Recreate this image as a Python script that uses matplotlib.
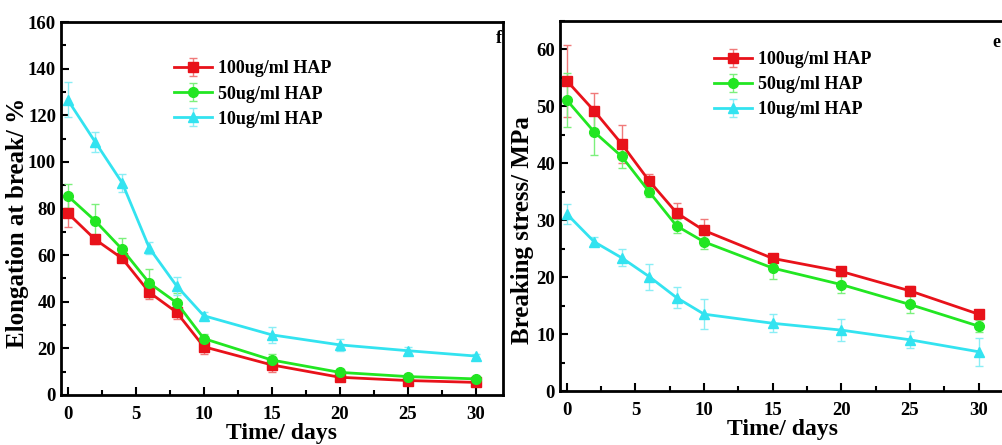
import numpy as np
import matplotlib
matplotlib.use("Agg")
import matplotlib.pyplot as plt
from matplotlib.ticker import MultipleLocator

plt.rcParams['font.family'] = ['Liberation Serif', 'DejaVu Serif']
plt.rcParams['font.weight'] = 'bold'

days = [0, 2, 4, 6, 8, 10, 15, 20, 25, 30]
labels = ["100ug/ml HAP", "50ug/ml HAP", "10ug/ml HAP"]

# elongation at break (%)
elong_100 = [78, 66.8, 58.6, 44, 35.5, 20.7, 12.9, 7.6, 6.2, 5.4]
elong_50 = [85.4, 74.8, 62.5, 48, 39.6, 24.2, 15, 9.7, 7.9, 6.9]
elong_10 = [126.6, 108.7, 91, 63, 46.8, 34, 25.8, 21.5, 19, 16.7]
elong_100_err = [6, 2, 1.5, 3, 3, 3, 3, 1, 1, 1]
elong_50_err = [5, 7, 4.7, 6, 4, 2, 2.5, 1.5, 1, 1]
elong_10_err = [7.5, 4.3, 4, 2.5, 4, 1.5, 3.5, 2.5, 1.5, 1]

# breaking stress (MPa)
stress_100 = [54.5, 49.2, 43.4, 36.9, 31.3, 28.2, 23.3, 21, 17.6, 13.5]
stress_50 = [51.1, 45.5, 41.2, 35, 29, 26.2, 21.6, 18.7, 15.2, 11.4]
stress_10 = [31.1, 26.2, 23.4, 20.1, 16.4, 13.5, 11.9, 10.7, 9, 6.9]
stress_100_err = [6.3, 3.2, 3.3, 1.2, 1.8, 2, 0.8, 0.8, 0.8, 0.8]
stress_50_err = [4.8, 4, 2, 1, 1.2, 1.2, 2, 1.5, 1.5, 1]
stress_10_err = [1.8, 0.8, 1.5, 2.3, 1.9, 2.6, 1.6, 1.9, 1.5, 2.5]

colors = ["#e8121a", "#22e622", "#33e3f0"]
err_colors = ["#f07a7a", "#7cf07c", "#8aeef5"]
markers = ["s", "o", "^"]

fig = plt.figure(figsize=(10.03, 4.45), dpi=100)
ax1 = fig.add_axes([0.0608, 0.1124, 0.4407, 0.838])
ax2 = fig.add_axes([0.5583, 0.1213, 0.4447, 0.8315])


def draw(ax, series, errs, ylim, ymajor, yminor, ylabel, label_xy, tag, tag_xy, leg_pos):
    for y, e, c, ec, m, lab in zip(series, errs, colors, err_colors, markers, labels):
        ax.errorbar(days, y, yerr=e, color=c, ecolor=ec, elinewidth=1.0,
                    capsize=3, capthick=1.0, marker=m, markersize=7,
                    linewidth=2, label=lab)
    ax.set_xlim(-0.5, 32)
    ax.set_ylim(*ylim)
    ax.xaxis.set_major_locator(MultipleLocator(5))
    ax.xaxis.set_minor_locator(MultipleLocator(2.5))
    ax.yaxis.set_major_locator(MultipleLocator(ymajor))
    ax.yaxis.set_minor_locator(MultipleLocator(yminor))
    ax.tick_params(which='both', direction='in', top=False, right=False,
                   labelsize=13.5, width=1.5)
    ax.tick_params(axis='x', which='both', pad=8)
    ax.tick_params(which='major', length=6)
    ax.tick_params(which='minor', length=3.5)
    for s in ax.spines.values():
        s.set_linewidth(2)
    ax.set_xlabel("Time/ days", fontsize=17, fontweight='bold', labelpad=0)
    ax.set_ylabel(ylabel, fontsize=18, fontweight='bold')
    ax.yaxis.set_label_coords(*label_xy)
    ax.text(tag_xy[0], tag_xy[1], tag, transform=ax.transAxes, ha='right', va='top',
            fontsize=13, fontweight='bold')
    ax.legend(loc='upper left', bbox_to_anchor=leg_pos, frameon=False,
              fontsize=13, handlelength=2.1, handletextpad=0.35,
              labelspacing=0.45, borderaxespad=0, borderpad=0)


draw(ax1, [elong_100, elong_50, elong_10],
     [elong_100_err, elong_50_err, elong_10_err],
     (0, 160), 20, 10, "Elongation at break/ %", (-0.072, 0.461),
     "f", (0.997, 0.98), (0.255, 0.897))
draw(ax2, [stress_100, stress_50, stress_10],
     [stress_100_err, stress_50_err, stress_10_err],
     (0, 65), 10, 5, "Breaking stress/ MPa", (-0.058, 0.435),
     "e", (0.988, 0.965), (0.345, 0.919))

fig.savefig("out.png", dpi=100)
